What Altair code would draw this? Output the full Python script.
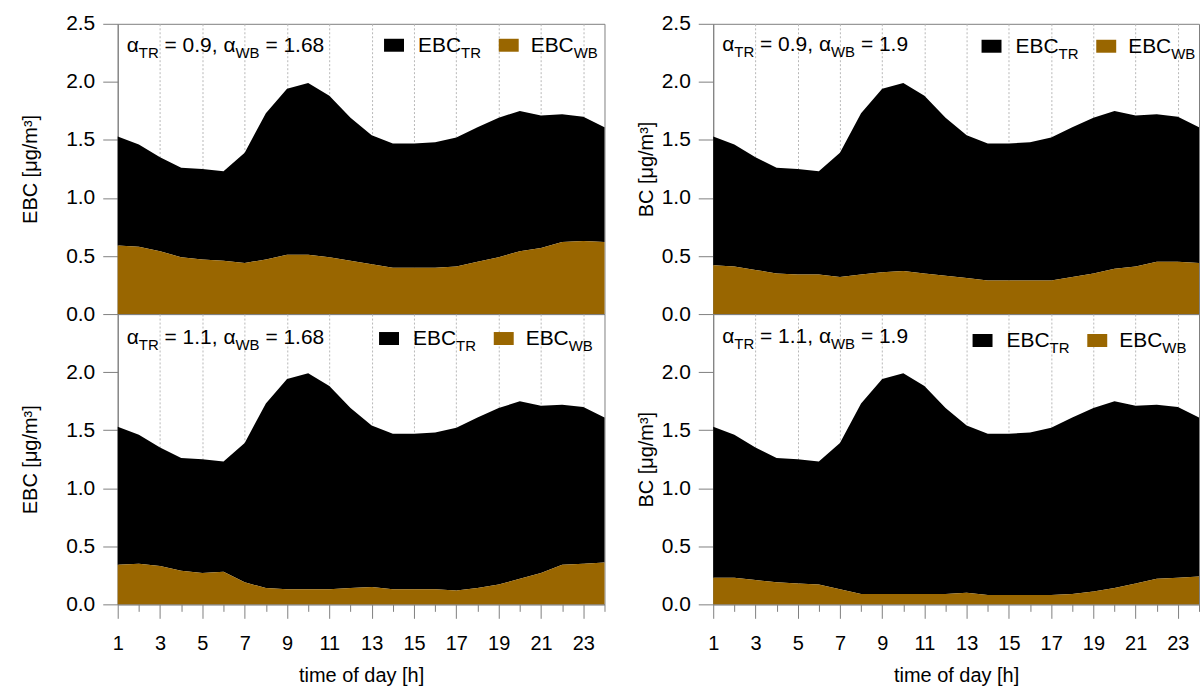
import altair as alt
import pandas as pd

# ---------------- data ----------------
hours = list(range(1, 25))
total = [1.53, 1.46, 1.35, 1.26, 1.25, 1.23, 1.39, 1.73, 1.94, 1.99, 1.88, 1.69,
         1.54, 1.47, 1.47, 1.48, 1.52, 1.61, 1.69, 1.75, 1.71, 1.72, 1.70, 1.61]
wb_tl = [0.59, 0.58, 0.54, 0.49, 0.47, 0.46, 0.44, 0.47, 0.51, 0.51, 0.49, 0.46,
         0.43, 0.40, 0.40, 0.40, 0.41, 0.45, 0.49, 0.54, 0.57, 0.62, 0.63, 0.62]
wb_tr = [0.42, 0.41, 0.38, 0.35, 0.34, 0.34, 0.32, 0.34, 0.36, 0.37, 0.35, 0.33,
         0.31, 0.29, 0.29, 0.29, 0.29, 0.32, 0.35, 0.39, 0.41, 0.45, 0.45, 0.44]
wb_bl = [0.34, 0.35, 0.33, 0.29, 0.27, 0.28, 0.19, 0.14, 0.13, 0.13, 0.13, 0.14,
         0.15, 0.13, 0.13, 0.13, 0.12, 0.14, 0.17, 0.22, 0.27, 0.34, 0.35, 0.36]
wb_br = [0.23, 0.23, 0.21, 0.19, 0.18, 0.17, 0.13, 0.09, 0.09, 0.09, 0.09, 0.09,
         0.10, 0.08, 0.08, 0.08, 0.08, 0.09, 0.11, 0.14, 0.18, 0.22, 0.23, 0.24]
y_ticks_top = [0.0, 0.5, 1.0, 1.5, 2.0, 2.5]
y_ticks_bottom = [0.0, 0.5, 1.0, 1.5, 2.0]
alpha_tr = ["0.9", "0.9", "1.1", "1.1"]
alpha_wb = ["1.68", "1.9", "1.68", "1.9"]
y_titles = ["EBC [μg/m³]", "BC [μg/m³]", "EBC [μg/m³]", "BC [μg/m³]"]
x_title = "time of day [h]"

FONT = "Liberation Sans"
BROWN = "#996600"
GRAY = "#808080"
GRID = "#b8b8b8"
FS = 21      # main annotation size
FSS = 15     # subscript size

# Arial / Liberation Sans advance widths (per 1000 em)
ADV = {'E': 667, 'B': 667, 'C': 722, 'T': 611, 'R': 722, 'W': 944, '=': 584,
       ' ': 278, '.': 278, ',': 278, 'α': 578}
for d in "0123456789":
    ADV[d] = 556


def tw(s, size):
    return sum(ADV.get(ch, 556) for ch in s) * size / 1000.0


one = pd.DataFrame({"k": [0]})


def txt(s, x, y, size):
    return alt.Chart(one).mark_text(
        text=s, align="left", baseline="alphabetic", fontSize=size,
        font=FONT, color="black"
    ).encode(x=alt.value(x), y=alt.value(y))


def rect(x0, x1, y0, y1, color):
    return alt.Chart(one).mark_rect(color=color).encode(
        x=alt.value(x0), x2=alt.value(x1), y=alt.value(y0), y2=alt.value(y1))


def annotation(a_tr, a_wb, x0, yb):
    layers = []
    x = x0
    sp = tw(" ", FS)
    layers.append(txt("α", x, yb, FS)); x += tw("α", FS)
    layers.append(txt("TR", x, yb + 6, FSS)); x += tw("TR", FSS) + sp
    s = "= " + a_tr + ","
    layers.append(txt(s, x, yb, FS)); x += tw(s, FS) + sp
    layers.append(txt("α", x, yb, FS)); x += tw("α", FS)
    layers.append(txt("WB", x, yb + 6, FSS)); x += tw("WB", FSS) + sp
    layers.append(txt("= " + a_wb, x, yb, FS))
    return layers


def legend(dx, yb):
    layers = []
    layers.append(rect(267 + dx, 287 + dx, yb - 13, yb, "#000000"))
    layers.append(txt("EBC", 301 + dx, yb, FS))
    layers.append(txt("TR", 301 + dx + tw("EBC", FS), yb + 6, FSS))
    layers.append(rect(382 + dx, 402 + dx, yb - 13, yb, BROWN))
    layers.append(txt("EBC", 414 + dx, yb, FS))
    layers.append(txt("WB", 414 + dx + tw("EBC", FS), yb + 6, FSS))
    return layers


def panel(idx, wb, bottom, width, title_pad, leg_dx, leg_y, ann_y):
    df = pd.DataFrame({"hour": hours, "total": total, "wb": wb})
    grid_op = {"condition": {"test": "datum.value % 2 == 0 || datum.value == 1", "value": 0},
               "value": 1}
    if bottom:
        xaxis = alt.Axis(
            values=hours, grid=True, gridColor=GRID, gridDash=[2, 2], gridWidth=1,
            gridOpacity=grid_op,
            tickSize={"condition": {"test": "datum.value % 2 == 0", "value": 7}, "value": 14},
            tickColor=GRAY, tickWidth=1, domainColor=GRAY,
            labelExpr="datum.value % 2 == 1 ? datum.label : ''",
            labelFlush=False, labelOverlap=False, labelFont=FONT, labelFontSize=20,
            labelColor="black", labelPadding=15,
            title=x_title, titleFont=FONT, titleFontSize=20, titleFontWeight="normal",
            titleColor="black", titlePadding=12)
    else:
        xaxis = alt.Axis(
            values=hours, grid=True, gridColor=GRID, gridDash=[2, 2], gridWidth=1,
            gridOpacity=grid_op, labels=False, ticks=False, domain=False, title=None)
    yaxis = alt.Axis(
        values=y_ticks_bottom if bottom else y_ticks_top, format=".1f", grid=False,
        tickSize=15, tickColor=GRAY, tickWidth=1, domainColor=GRAY,
        labelFont=FONT, labelFontSize=21, labelColor="black", labelPadding=8,
        labelOverlap=False, labelFlush=False,
        title=y_titles[idx], titleFont=FONT, titleFontSize=20, titleFontWeight="normal",
        titleColor="black", titlePadding=title_pad)
    xs = alt.Scale(domain=[1, 24], nice=False, zero=False)
    ys = alt.Scale(domain=[0, 2.5], nice=False)
    black = alt.Chart(df).mark_area(color="#000000", interpolate="linear").encode(
        x=alt.X("hour:Q", scale=xs, axis=xaxis),
        y=alt.Y("total:Q", scale=ys, axis=yaxis),
        y2=alt.Y2("wb:Q"))
    brown = alt.Chart(df).mark_area(color=BROWN, interpolate="linear").encode(
        x=alt.X("hour:Q", scale=xs, axis=xaxis),
        y=alt.Y("wb:Q", scale=ys, axis=yaxis))
    layers = [black, brown]
    layers += annotation(alpha_tr[idx], alpha_wb[idx], 9, ann_y)
    layers += legend(leg_dx, leg_y)
    return alt.layer(*layers).properties(width=width, height=291)


tl = panel(0, wb_tl, False, 488, 25, 0, 28, 28)
tr = panel(1, wb_tr, False, 487, 5, 2, 29, 27)
bl = panel(2, wb_bl, True, 488, 25, -5, 31, 30)
br = panel(3, wb_br, True, 487, 5, -7, 33, 29)

chart = alt.concat(tl, tr, bl, br, columns=2, bounds="flush",
                   spacing={"row": 0, "column": 109}).properties(
    padding={"left": 20, "top": 11, "right": 0, "bottom": 0},
    background="white"
).configure_view(stroke=GRAY, strokeWidth=1)

chart.save("out.html", embed_options={"renderer": "svg", "actions": False})
